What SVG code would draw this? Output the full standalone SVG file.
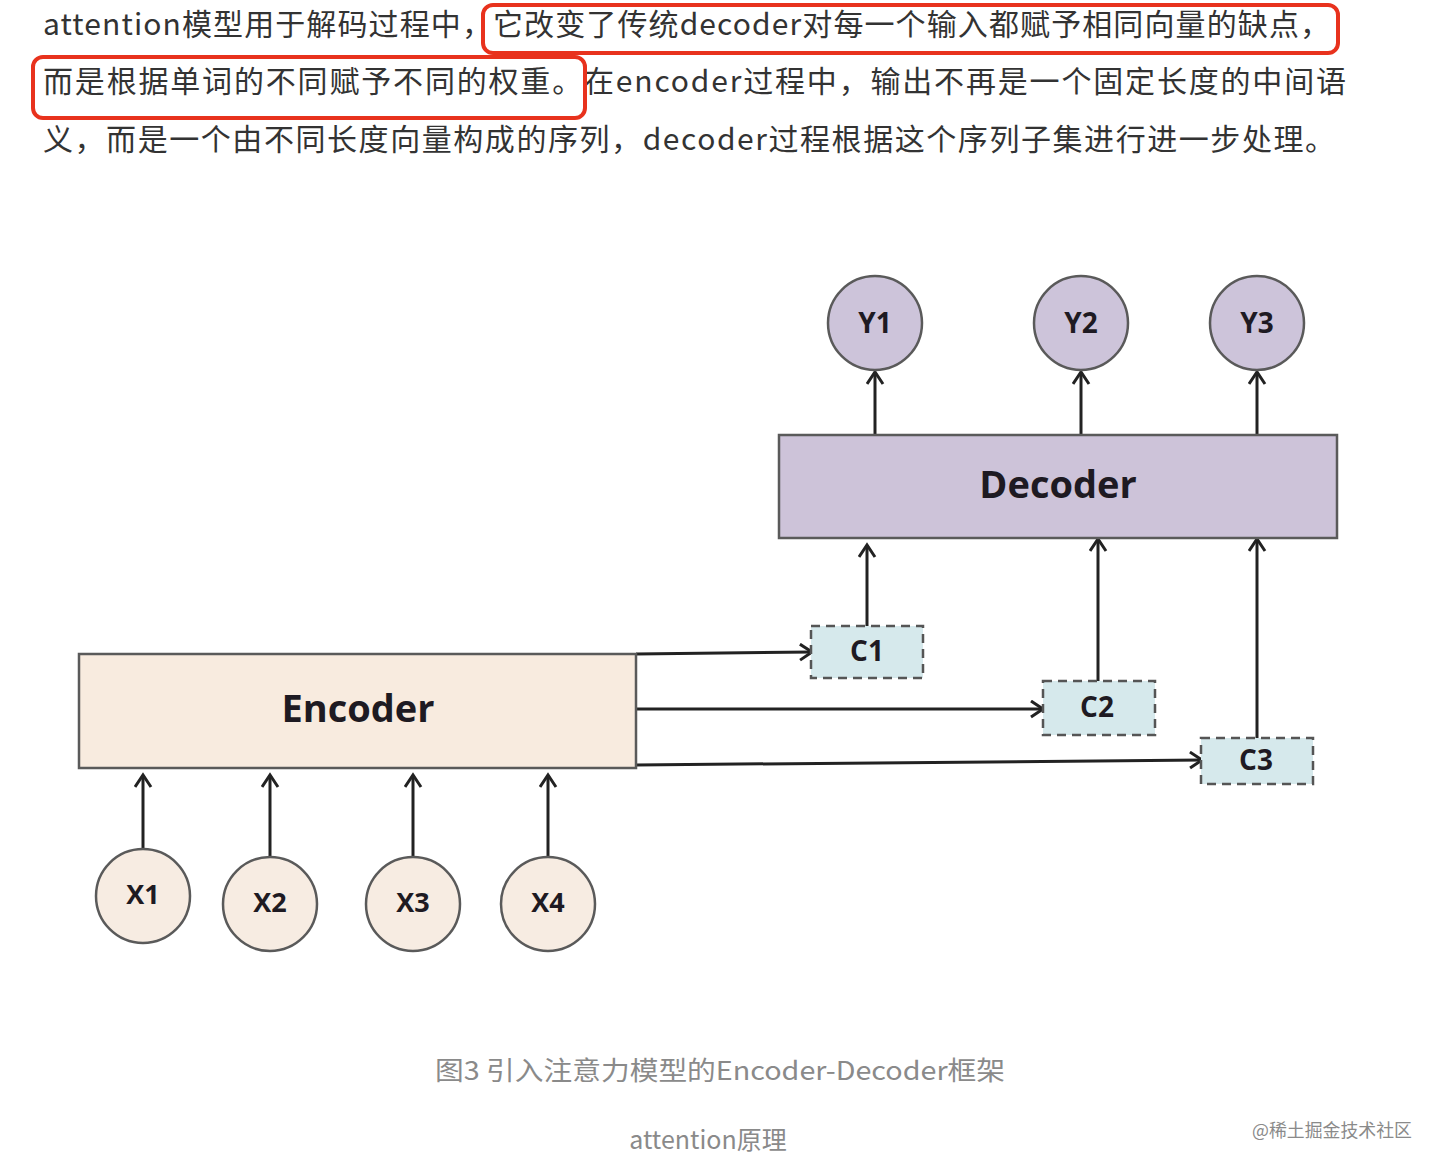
<svg xmlns="http://www.w3.org/2000/svg" width="1442" height="1170" viewBox="0 0 1442 1170">
<style>
.para{font-family:"Noto Sans CJK SC","Noto Sans",sans-serif;font-size:30px;fill:#333}
.hl{fill:none;stroke:#e8321d;stroke-width:4}
.yc{fill:#cdc4da;stroke:#5a5a5a;stroke-width:2.5}
.xc{fill:#f7ece2;stroke:#5a5a5a;stroke-width:2.5}
.cb{fill:#d6e9ec;stroke:#555;stroke-width:2.5;stroke-dasharray:9 6}
.lbl{font-family:"Open Sans","Noto Sans",sans-serif;font-weight:bold;fill:#1e1a22;text-anchor:middle}
.con{fill:none;stroke:#222;stroke-width:3}
.cap{font-family:"Noto Sans CJK SC","Noto Sans",sans-serif;fill:#8a8a8a}
</style>
<defs>
<marker id="ah" markerUnits="userSpaceOnUse" markerWidth="22" markerHeight="22" refX="14" refY="9" orient="auto">
<path d="M2,1 L14,9 L2,17" fill="none" stroke="#222" stroke-width="3"/>
</marker>
</defs>
<rect width="1442" height="1170" fill="#fff"/>
<g id="paragraph">
<text class="para" x="43" y="35" textLength="1287" lengthAdjust="spacing">attention模型用于解码过程中，它改变了传统decoder对每一个输入都赋予相同向量的缺点，</text>
<text class="para" x="43" y="92" textLength="1303" lengthAdjust="spacing">而是根据单词的不同赋予不同的权重。在encoder过程中，输出不再是一个固定长度的中间语</text>
<text class="para" x="43" y="150" textLength="1292" lengthAdjust="spacing">义，而是一个由不同长度向量构成的序列，decoder过程根据这个序列子集进行进一步处理。</text>
<rect class="hl" x="483" y="5" width="855" height="48" rx="10"/>
<rect class="hl" x="33" y="57" width="552" height="61" rx="10"/>
</g>
<g id="connectors">
<path class="con" d="M875,435 V372" marker-end="url(#ah)"/>
<path class="con" d="M1081,435 V372" marker-end="url(#ah)"/>
<path class="con" d="M1257,435 V372" marker-end="url(#ah)"/>
<path class="con" d="M867,626 V545" marker-end="url(#ah)"/>
<path class="con" d="M1098,681 V539" marker-end="url(#ah)"/>
<path class="con" d="M1257,738 V539" marker-end="url(#ah)"/>
<path class="con" d="M636,654 L812,652" marker-end="url(#ah)"/>
<path class="con" d="M636,709 L1043,709" marker-end="url(#ah)"/>
<path class="con" d="M636,765 L1202,760" marker-end="url(#ah)"/>
<path class="con" d="M143,848 V775" marker-end="url(#ah)"/>
<path class="con" d="M270,857 V775" marker-end="url(#ah)"/>
<path class="con" d="M413,857 V775" marker-end="url(#ah)"/>
<path class="con" d="M548,857 V775" marker-end="url(#ah)"/>
</g>
<g id="Y1"><ellipse class="yc" cx="875" cy="323" rx="47" ry="47"/><text class="lbl" x="875" y="333" font-size="28">Y1</text></g>
<g id="Y2"><ellipse class="yc" cx="1081" cy="323" rx="47" ry="47"/><text class="lbl" x="1081" y="333" font-size="28">Y2</text></g>
<g id="Y3"><ellipse class="yc" cx="1257" cy="323" rx="47" ry="47"/><text class="lbl" x="1257" y="333" font-size="28">Y3</text></g>
<g id="decoder"><rect x="779" y="435" width="558" height="103" fill="#cdc3d9" stroke="#5a5a5a" stroke-width="2.5"/><text class="lbl" x="1058" y="498" font-size="38">Decoder</text></g>
<g id="C1"><rect class="cb" x="811" y="626" width="112" height="52"/><text class="lbl" x="867" y="661" font-size="28">C1</text></g>
<g id="C2"><rect class="cb" x="1043" y="681" width="112" height="54"/><text class="lbl" x="1097" y="717" font-size="28">C2</text></g>
<g id="C3"><rect class="cb" x="1201" y="738" width="112" height="46"/><text class="lbl" x="1256" y="770" font-size="28">C3</text></g>
<g id="encoder"><rect x="79" y="654" width="557" height="114" fill="#f8ebdf" stroke="#5a5a5a" stroke-width="2.5"/><text class="lbl" x="358" y="722" font-size="38">Encoder</text></g>
<g id="X1"><ellipse class="xc" cx="143" cy="896" rx="47" ry="47"/><text class="lbl" x="143" y="904" font-size="27">X1</text></g>
<g id="X2"><ellipse class="xc" cx="270" cy="904" rx="47" ry="47"/><text class="lbl" x="270" y="912" font-size="27">X2</text></g>
<g id="X3"><ellipse class="xc" cx="413" cy="904" rx="47" ry="47"/><text class="lbl" x="413" y="912" font-size="27">X3</text></g>
<g id="X4"><ellipse class="xc" cx="548" cy="904" rx="47" ry="47"/><text class="lbl" x="548" y="912" font-size="27">X4</text></g>
<g id="captions">
<text class="cap" x="435" y="1080" font-size="26" textLength="570" lengthAdjust="spacingAndGlyphs">图3 引入注意力模型的Encoder-Decoder框架</text>
<text class="cap" x="708" y="1149" font-size="25" text-anchor="middle">attention原理</text>
<text class="cap" x="1252" y="1137" font-size="18" fill="#9a9a9a" textLength="160" lengthAdjust="spacingAndGlyphs">@稀土掘金技术社区</text>
</g>
</svg>
